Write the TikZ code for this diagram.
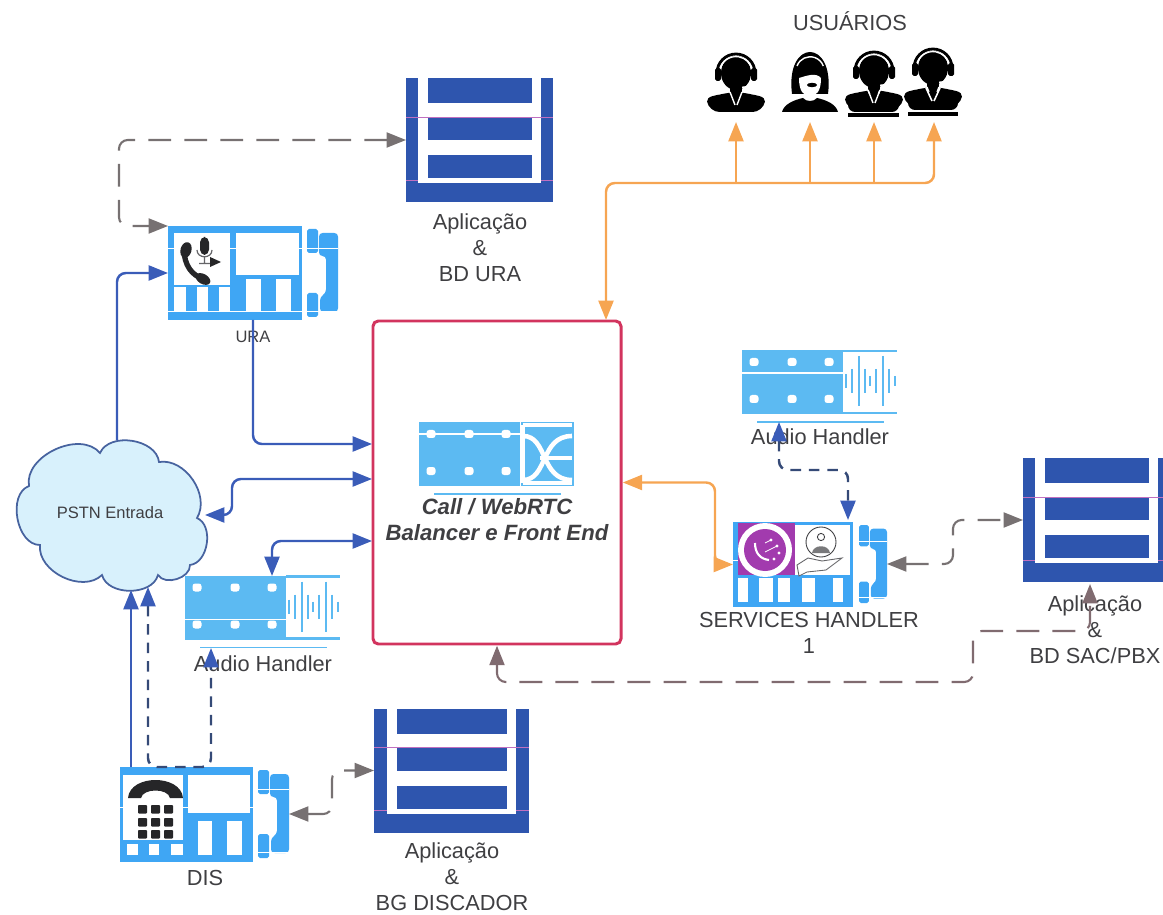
\documentclass[tikz,border=0pt]{standalone}
\usepackage{fontspec}
\setmainfont{Liberation Sans}
\usetikzlibrary{arrows.meta}
\definecolor{phoneblue}{HTML}{3FA6F4}
\definecolor{audioblue}{HTML}{5CBAF2}
\definecolor{storeblue}{HTML}{2E55AE}
\definecolor{lineblue}{HTML}{3A5CB8}
\definecolor{linegray}{HTML}{777172}
\definecolor{lineorange}{HTML}{F6A552}
\definecolor{boxred}{HTML}{D2345E}
\definecolor{cloudfill}{HTML}{D8F1FC}
\definecolor{cloudline}{HTML}{47639F}
\definecolor{panelpurple}{HTML}{A23BAE}
\definecolor{txtdark}{HTML}{3F3F42}
\definecolor{storepink}{HTML}{C06FC0}
\def\pxu{0.02cm}
\tikzset{
  >={Triangle[length=11pt,width=8.5pt]},
  iconbox/.style={inner sep=0pt,outer sep=0pt},
  lbl/.style={inner sep=0pt,text=txtdark,align=center,font=\fontsize{12.4}{14.8}\selectfont},
  blueline/.style={draw=lineblue,line width=1.4pt,rounded corners=5pt},
  bluedash/.style={blueline,draw=cloudline!75!black,dash pattern=on 6pt off 4.5pt,>={Triangle[length=11pt,width=8.5pt,color=lineblue]}},
  orangeline/.style={draw=lineorange,line width=1.4pt,rounded corners=5pt},
  grayline/.style={draw=linegray,line width=1.2pt,rounded corners=5pt,dash pattern=on 13pt off 7.5pt},
  pics/storeicon/.style={code={
    \fill[storeblue] (0,0) rectangle (12,124);
    \fill[storeblue] (135,0) rectangle (147,124);
    \fill[storeblue] (0,105) rectangle (147,124);
    \foreach \ya/\yb in {0/25,39/62,77/100}
      \fill[storeblue] (22,\ya) rectangle (126,\yb);
    \draw[storepink,line width=.5pt] (0,39) -- (147,39);
    \draw[storepink,line width=.4pt] (0,102) -- (12,102) (135,102) -- (147,102);
  }},
  pics/slotstrip/.style={code={
    \fill[audioblue] (0,0) rectangle (101,64);
    \foreach \dx in {12,50,87}{
      \fill[white,rounded corners=1.5pt] (\dx-4.5,8) rectangle (\dx+4.5,16);
      \fill[white,rounded corners=1.5pt] (\dx-4.5,45) rectangle (\dx+4.5,53);
    }
    \draw[audioblue,line width=1pt] (15,72) -- (142,72);
  }},
  pics/audioicon/.style={code={
    \pic {slotstrip};
    \draw[audioblue,line width=1.2pt] (101,1) -- (155,1);
    \draw[audioblue,line width=1.2pt] (101,63) -- (155,63);
    \foreach \bx/\bh in {104/7,110/12,117/25,123/12,128/5,134/12,141/25,147/12,153/5}
      \draw[audioblue,line width=1.2pt] (\bx,{31-\bh}) -- (\bx,{31+\bh});
  }},
  pics/handset/.style={code={
    \fill[phoneblue,rounded corners=1pt] (0,0) rectangle (11,24);
    \fill[phoneblue,rounded corners=1pt] (0,64) rectangle (11,88);
    \fill[phoneblue,rounded corners=2pt] (12,4) -- (31,4) -- (31,83) -- (13,83) -- (13,68) -- (19,64) -- (19,27) -- (12,27) -- cycle;
    \draw[white,line width=.5pt] (0,19) -- (31,19);
    \draw[white,line width=.5pt] (0,82) -- (31,82);
  }},
  pics/agent/.style={code={
    \fill (0,1) ellipse (15 and 17);
    \draw[line width=1.6pt] (-19,1) arc[start angle=180,end angle=360,radius=19];
    \draw[white,line width=.7pt] (-16,-2) arc[start angle=190,end angle=350,radius=16.2];
    \fill[rounded corners=1pt] (-21,-4) rectangle (-15,9);
    \fill[rounded corners=1pt] (15,-4) rectangle (21,9);
    \draw[white,line width=.9pt] (15,10) .. controls (14,15) and (9,16) .. (2,15);
    \fill (-6,8) rectangle (6,24);
    \fill[rounded corners=6pt] (-27,40) .. controls (-30,24) and (-18,23) .. (-6,20) -- (6,20) .. controls (18,23) and (30,24) .. (27,40) -- cycle;
    \draw[white,line width=.8pt] (-6,20) -- (-1,33);
    \draw[white,line width=.8pt] (6,20) -- (1,33);
  }},
  pics/agenthair/.style={code={
    \fill (-18,22) .. controls (-25,-34) and (25,-34) .. (18,22) -- cycle;
    \fill[white] (-11,6) .. controls (-4,4) and (6,0) .. (11,6) .. controls (11,20) and (6,24) .. (0,24) .. controls (-6,24) and (-11,20) .. (-11,6) -- cycle;
    \fill (2,13) ellipse (5 and 2.2);
    \draw[white,line width=.8pt] (-13,-6) arc[start angle=200,end angle=340,radius=14];
    \fill (-28,40) .. controls (-26,32) and (-16,28) .. (-7,26) .. controls (-4,30) and (4,30) .. (7,26) .. controls (16,28) and (26,32) .. (28,40) -- cycle;
  }}
}
\begin{document}
\begin{tikzpicture}[x=\pxu,y=-\pxu]
  \clip (0,0) rectangle (1163,915);

  % boxes of the diagram
  \begin{scope}[every node/.style={iconbox}]
    \node (bdura) at (479.5,140) [minimum width=147*\pxu,minimum height=124*\pxu] {};
    \node (bdsac) at (1096.5,520) [minimum width=147*\pxu,minimum height=124*\pxu] {};
    \node (bddis) at (451.5,770.5) [minimum width=155*\pxu,minimum height=124*\pxu] {};
    \node (ura) at (235,273) [minimum width=134*\pxu,minimum height=94*\pxu] {};
    \node (dis) at (186.5,814.5) [minimum width=133*\pxu,minimum height=95*\pxu] {};
    \node (svc) at (793,564.5) [minimum width=120*\pxu,minimum height=85*\pxu] {};
    \node (urahs) at (322.5,273) [minimum width=31*\pxu,minimum height=88*\pxu] {};
    \node (dishs) at (273.5,814) [minimum width=31*\pxu,minimum height=88*\pxu] {};
    \node (svchs) at (873,564) [minimum width=28*\pxu,minimum height=78*\pxu] {};
    \node (audl) at (262.5,607.5) [minimum width=155*\pxu,minimum height=64*\pxu] {};
    \node (audr) at (819.5,382) [minimum width=155*\pxu,minimum height=64*\pxu] {};
    \node (lbal) at (496.5,454) [minimum width=155*\pxu,minimum height=64*\pxu] {};
    \node (usr1) at (736,86) [minimum width=54*\pxu,minimum height=72*\pxu] {};
    \node (usr2) at (810,86) [minimum width=56*\pxu,minimum height=72*\pxu] {};
    \node (usr3) at (874,86) [minimum width=52*\pxu,minimum height=72*\pxu] {};
    \node (usr4) at (934,86) [minimum width=52*\pxu,minimum height=72*\pxu] {};
  \end{scope}
  \node (bal) at (497,482.5) [draw=boxred,line width=1.7pt,rounded corners=3pt,outer sep=1pt,minimum width=248*\pxu,minimum height=323*\pxu] {};

  % cloud
  \draw[draw=cloudline,fill=cloudfill,line width=1pt] (29,486) to[bend left=75] (100,453) to[bend left=75] (159,462)
    to[bend left=65] (197,518) to[bend left=75] (190,565) to[bend left=75] (158,575) to[bend left=75] (102,575)
    to[bend left=70] (40,545) to[bend left=80] cycle;
  \node (pstn) at (110,513) [inner sep=0pt,text=txtdark,minimum width=196*\pxu,minimum height=146*\pxu,font=\fontsize{9.4}{11}\selectfont] {PSTN Entrada};

  % stores and strips
  \pic at (bdura.north west) {storeicon};
  \pic at (bdsac.north west) {storeicon};
  \pic[xscale=155/147] at (bddis.north west) {storeicon};
  \pic at (audl.north west) {audioicon};
  \draw[white,line width=.8pt] (audl.west) ++(0,12) -- ++(101,0);
  \pic at (audr.north west) {audioicon};
  \draw[white,line width=.8pt] (audr.west) ++(0,-9) -- ++(101,0);
  \pic at (lbal.north west) {slotstrip};
  \draw[white,line width=.8pt] (lbal.west) ++(0,-20) -- ++(101,0);
  \fill[audioblue] (521,422) rectangle (574,486);
  \draw[white,line width=2pt] (523,425) -- (572,425) (523,483) -- (572,483) (523,425) -- (523,483);
  \draw[white,line width=2.6pt] (523,436) .. controls (548,436) and (540,480) .. (572,480);
  \draw[white,line width=2.6pt] (523,480) .. controls (548,480) and (540,436) .. (572,436);
  \draw[white,line width=2.2pt] (540,458) -- (572,458);

  % URA phone
  \fill[phoneblue] (ura.north west) rectangle (ura.south east);
  \fill[white] (174,233) rectangle (230,285);
  \fill[white] (236,233) rectangle (299,275);
  \foreach \xa/\xb in {174/186,197/208,219/230} \fill[white] (\xa,287) rectangle (\xb,312);
  \foreach \xa/\xb in {246/261,276/291} \fill[white] (\xa,279) rectangle (\xb,312);
  \draw[white,line width=.5pt] (168,248) -- (302,248);
  \draw[white,line width=.5pt] (168,311) -- (302,311);
  \pic at (urahs.north west) {handset};
  \draw[line width=3pt,txtdark!60!black] (184,249) .. controls (184,265) and (192,276) .. (204,279);
  \fill[txtdark!60!black,rotate around={-15:(186,250)}] (186,250) ellipse (5.5 and 8);
  \fill[txtdark!60!black,rotate around={60:(203,279)}] (203,279) ellipse (5 and 8);
  \fill[txtdark!60!black,rounded corners=3pt] (200,237) rectangle (209,255);
  \draw[txtdark!80,line width=.7pt] (197,250) .. controls (197,259) and (212,259) .. (212,250) (204.5,257) -- (204.5,263) (199,263.5) -- (210,263.5);
  \fill[txtdark!60!black] (210,257) -- (221,262) -- (210,267) -- cycle;

  % DIS phone
  \fill[phoneblue] (dis.north west) rectangle (dis.south east);
  \fill[white] (123,775) rectangle (183,840);
  \fill[white] (188,775) rectangle (250,813);
  \foreach \xa/\xb in {127/138,149/159,171/183} \fill[white] (\xa,844) rectangle (\xb,855);
  \foreach \xa/\xb in {198/212,227/242} \fill[white] (\xa,821) rectangle (\xb,855);
  \draw[white,line width=.5pt] (120,807) -- (123,807) (183,807) -- (253,807);
  \pic at (dishs.north west) {handset};
  \fill[txtdark!60!black] (128,798) .. controls (130,774) and (181,774) .. (183,798) -- (170,798) .. controls (168,788) and (143,788) .. (141,798) -- cycle;
  \foreach \kx in {138,151,164}
    \foreach \ky in {805,818,830}
      \fill[txtdark!60!black,rounded corners=.5pt] (\kx,\ky) rectangle ++(9,8.5);

  % services phone
  \fill[phoneblue] (svc.north west) rectangle (svc.south east);
  \fill[panelpurple] (738,523) rectangle (795,575);
  \fill[white] (795,525) rectangle (850,575);
  \foreach \xa/\xb in {738/748,759/773,778/790,802/815,833/843} \fill[white] (\xa,578) rectangle (\xb,602);
  \fill[white] (765,550) circle (27);
  \fill[panelpurple] (765,550) circle (21);
  \draw[white,line width=1.2pt] (755,543) .. controls (755,553) and (760,559) .. (769,560);
  \foreach \dx/\dy in {771/540,777/546,779/553,774/559} \fill[white] (\dx,\dy) circle (1.6);
  \draw[white,line width=.5pt] (765,543) -- (771,540) (765,552) -- (777,546);
  \draw[txtdark,line width=.5pt] (821,542) circle (15);
  \draw[txtdark,line width=.5pt] (821,537) circle (3.6);
  \fill[txtdark!70] (812,553) .. controls (813,544) and (829,544) .. (830,553) -- cycle;
  \draw[txtdark!80,fill=white,line width=.5pt] (797,565) -- (808,558) -- (822,561) -- (842,558) -- (826,570) -- (807,572) -- (799,576) -- cycle;
  \draw[white,line width=.5pt] (733,560) -- (738,560);
  \pic[xscale=28/31,yscale=78/88] at (svchs.north west) {handset};

  % agents
  \pic at (736,72) {agent};
  \pic at (810,72) {agenthair};
  \pic at (874,70) {agent};
  \fill[rounded corners=4pt] (848,94) rectangle (899,112);
  \draw[white,line width=.8pt] (868,90) -- (873,103) (880,90) -- (875,103);
  \pic at (933,67) {agent};
  \fill[rounded corners=4pt] (908,92) rectangle (958,110);
  \draw[white,line width=.9pt] (926,88) -- (932,101) (940,88) -- (934,101);
  \fill (848,113) rectangle (899,117);
  \fill (908,112) rectangle (958,116);

  % labels
  \begin{scope}[every node/.style={lbl}]
    \node (tusr) at (850,21) {USUÁRIOS};
    \node (tbdu) at (480,248) {Aplicação\\\&\\BD URA};
    \node (tbdd) at (452,877) {Aplicação\\\&\\BG DISCADOR};
    \node (tbds) at (1095,630) {Aplicação\\\&\\BD SAC/PBX};
    \node (tsvc) at (809,632.5) {SERVICES HANDLER\\1};
    \node (taud) at (263,664) {Audio Handler};
    \node (taur) at (820,437) {Audio Handler};
    \node (tdis) at (205,878) {DIS};
    \node (tura) at (253,337) [font=\fontsize{9.4}{11}\selectfont] {URA};
    \node (tbal) at (497,520) [font=\bfseries\itshape\fontsize{12.6}{14.8}\selectfont] {Call / WebRTC\\Balancer e Front End};
  \end{scope}

  % free ends
  \coordinate (balin1) at (372,444);
  \coordinate (balin2) at (372,479);
  \coordinate (balin3) at (372,541);
  \coordinate (balup) at (606,320);
  \coordinate (cloudr) at (205,515);
  \coordinate (cloudb1) at (131,590);
  \coordinate (cloudb2) at (148,587);
  \coordinate (cloudt) at (117,440);
  \coordinate (disb1) at (131,767);
  \coordinate (audlup) at (211,648);
  \coordinate (audlin) at (272,576);
  \coordinate (audrdn) at (779,422);
  \coordinate (svcin) at (848,520);
  \coordinate (sacin) at (1090,584);
  \coordinate (urab) at (253,320);

  % blue links
  \draw[blueline,->] (cloudt) |- (ura.west);
  \draw[blueline,->] (urab) |- (balin1);
  \draw[blueline,<->] (balin2) -- (232,479) -- (232,515) -- (cloudr);
  \draw[blueline,<->] (balin3) -| (audlin);
  \draw[blueline,->] (disb1) -- (cloudb1);
  \draw[bluedash,<->] (cloudb2) |- (180,767) -| (audlup);
  \draw[bluedash,<->] (audrdn) |- (815,470) -| (svcin);

  % gray links
  \draw[grayline,<->] (bdura.west) -| (119,182) |- (ura.north west);
  \draw[grayline,<->] (dishs.east) -| (332,790) |- (bddis.west);
  \draw[grayline,<->] (svchs.east) -| (953,540) |- (bdsac.west);
  \draw[grayline,draw=linegray!90!boxred,<->] (bal.south) |- (973,682) -- (973,631) -| (sacin);

  % orange links
  \draw[orangeline,<->] (bal.east) -| (715,520) |- (svc.west);
  \draw[orangeline,<->] (balup) |- (900,183) -| (usr4.south);
  \draw[orangeline,->] (736,183) -- (usr1.south);
  \draw[orangeline,->] (810,183) -- (usr2.south);
  \draw[orangeline,->] (874,183) -- (usr3.south);
\end{tikzpicture}
\end{document}
